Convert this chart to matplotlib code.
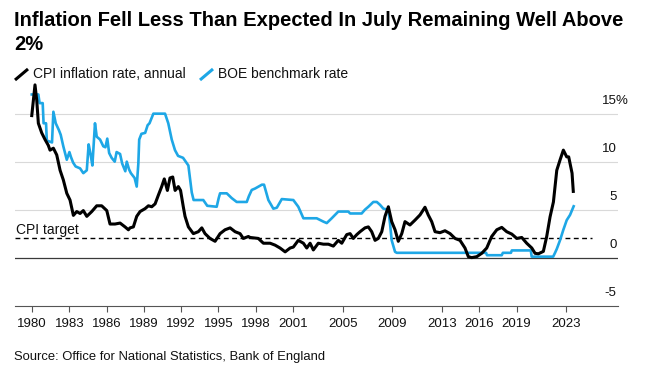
import matplotlib.pyplot as plt
import matplotlib.transforms as mtransforms
from matplotlib.lines import Line2D

plt.rcParams['font.family'] = ['Liberation Sans', 'DejaVu Sans']

# CPI inflation rate, annual (%)
cpi_year = [1979.97, 1980.23, 1980.37, 1980.50, 1980.77, 1981.04, 1981.30, 1981.44, 1981.71, 1981.98,
            1982.25, 1982.51, 1982.79, 1983.05, 1983.32, 1983.59, 1983.86, 1984.12, 1984.40, 1984.80,
            1985.20, 1985.60, 1986.01, 1986.27, 1986.67, 1987.08, 1987.48, 1987.75, 1987.88, 1988.15,
            1988.42, 1988.69, 1989.09, 1989.36, 1989.63, 1989.90, 1990.16, 1990.43, 1990.64, 1990.89,
            1991.10, 1991.32, 1991.51, 1991.77, 1991.95, 1992.17, 1992.31, 1992.58, 1992.98, 1993.38,
            1993.66, 1993.92, 1994.32, 1994.73, 1995.13, 1995.53, 1995.94, 1996.34, 1996.74, 1997.00,
            1997.41, 1997.55, 1998.21, 1998.62, 1999.16, 1999.56, 1999.96, 2000.37, 2000.77, 2001.03,
            2001.43, 2001.84, 2002.11, 2002.38, 2002.64, 2003.04, 2003.45, 2003.85, 2004.25, 2004.65,
            2004.93, 2005.33, 2005.60, 2005.86, 2006.14, 2006.40, 2006.80, 2007.07, 2007.34, 2007.61,
            2007.87, 2008.15, 2008.41, 2008.68, 2008.95, 2009.22, 2009.48, 2009.76, 2010.02, 2010.42,
            2010.82, 2011.23, 2011.63, 2011.89, 2012.17, 2012.44, 2012.84, 2013.24, 2013.65, 2014.05,
            2014.45, 2014.85, 2015.12, 2015.39, 2015.80, 2016.20, 2016.60, 2017.00, 2017.41, 2017.81,
            2018.21, 2018.62, 2019.02, 2019.42, 2019.82, 2020.23, 2020.49, 2020.76, 2021.16, 2021.43,
            2021.70, 2021.97, 2022.24, 2022.51, 2022.77, 2023.04, 2023.20, 2023.47, 2023.57]
cpi_rate = [14.8, 18.0, 16.4, 14.0, 13.0, 12.3, 11.7, 11.2, 11.4, 10.7,
            9.1, 8.1, 6.7, 6.0, 4.4, 4.8, 4.6, 4.9, 4.3, 4.8,
            5.4, 5.4, 4.9, 3.5, 3.5, 3.6, 3.2, 2.9, 3.1, 3.2,
            4.3, 4.8, 5.1, 5.4, 5.3, 5.6, 6.5, 7.4, 8.2, 7.0,
            8.3, 8.4, 7.0, 7.4, 7.0, 5.3, 4.3, 3.2, 2.5, 2.7,
            3.1, 2.5, 2.0, 1.7, 2.5, 2.9, 3.1, 2.7, 2.5, 2.0,
            2.2, 2.1, 2.0, 1.5, 1.5, 1.3, 1.0, 0.6, 1.0, 1.1,
            1.8, 1.5, 1.0, 1.5, 0.8, 1.5, 1.4, 1.4, 1.2, 1.8,
            1.5, 2.4, 2.5, 2.0, 2.4, 2.7, 3.1, 3.2, 2.7, 1.8,
            2.0, 2.7, 4.3, 5.3, 3.75, 2.9, 1.7, 2.5, 3.75, 3.4,
            3.9, 4.45, 5.25, 4.45, 3.75, 2.7, 2.6, 2.8, 2.5, 2.0,
            1.8, 1.0, 0.1, 0.0, 0.1, 0.45, 1.0, 2.2, 2.9, 3.15,
            2.7, 2.45, 2.0, 2.1, 1.5, 1.0, 0.45, 0.4, 0.65, 2.2,
            4.25, 5.8, 9.1, 10.2, 11.2, 10.5, 10.5, 8.8, 6.9]

# BOE benchmark rate (%)
boe_year = [1979.97, 1980.50, 1980.60, 1980.85, 1980.92, 1981.12, 1981.18, 1981.60, 1981.71, 1981.90,
            1982.15, 1982.30, 1982.51, 1982.79, 1983.00, 1983.12, 1983.30, 1983.50, 1983.86, 1984.12,
            1984.40, 1984.55, 1984.70, 1984.85, 1985.06, 1985.20, 1985.47, 1985.73, 1985.90, 1986.05,
            1986.20, 1986.40, 1986.65, 1986.80, 1987.08, 1987.25, 1987.50, 1987.62, 1987.80, 1987.95,
            1988.25, 1988.42, 1988.55, 1988.62, 1988.80, 1989.10, 1989.30, 1989.45, 1989.76, 1990.70,
            1990.96, 1991.24, 1991.50, 1991.75, 1992.15, 1992.58, 1992.85, 1993.00, 1993.78, 1994.10,
            1994.86, 1995.02, 1995.13, 1995.67, 1996.07, 1996.47, 1997.28, 1997.45, 1997.68, 1997.95,
            1998.50, 1998.67, 1999.02, 1999.42, 1999.70, 2000.10, 2001.03, 2001.43, 2001.84, 2002.91,
            2003.45, 2003.72, 2004.12, 2004.65, 2005.46, 2005.60, 2006.53, 2006.80, 2007.07, 2007.47,
            2007.75, 2008.01, 2008.28, 2008.68, 2008.81, 2008.95, 2009.22, 2009.36, 2016.55, 2016.62,
            2017.81, 2017.90, 2018.55, 2018.62, 2020.15, 2020.22, 2021.95, 2022.10, 2022.24, 2022.50,
            2022.77, 2023.04, 2023.31, 2023.60]
boe_rate = [17.0, 17.0, 16.1, 16.1, 14.0, 14.0, 12.2, 12.0, 15.2, 14.0,
            13.3, 12.8, 11.6, 10.2, 11.0, 10.5, 9.9, 9.5, 9.3, 8.8,
            9.1, 11.8, 10.8, 9.6, 14.0, 12.6, 12.3, 11.6, 11.5, 12.4,
            10.9, 10.4, 10.0, 11.0, 10.8, 9.8, 9.0, 10.0, 9.2, 8.8,
            8.3, 7.4, 9.8, 12.3, 12.9, 13.0, 13.8, 14.0, 15.0, 15.0,
            14.0, 12.3, 11.2, 10.6, 10.4, 9.6, 6.8, 6.0, 6.0, 5.4,
            5.3, 6.2, 6.7, 6.7, 6.2, 5.8, 5.8, 6.4, 7.05, 7.2,
            7.6, 7.6, 6.0, 5.1, 5.2, 6.1, 6.0, 5.3, 4.1, 4.1,
            3.75, 3.6, 4.1, 4.8, 4.8, 4.6, 4.6, 5.0, 5.3, 5.8,
            5.8, 5.5, 5.1, 5.0, 3.6, 1.8, 0.6, 0.5, 0.5, 0.25,
            0.25, 0.5, 0.5, 0.75, 0.75, 0.1, 0.1, 0.5, 0.9, 1.8,
            2.9, 3.9, 4.45, 5.35]

year_ticks = [1980, 1983, 1986, 1989, 1992, 1995, 1998, 2001, 2005, 2009, 2013, 2016, 2019, 2023]
rate_ticks = [-5, 0, 5, 10, 15]
rate_labels = ['-5', '0', '5', '10', '15']
cpi_target = 2

W, H = 658, 376
fig = plt.figure(figsize=(W / 100, H / 100), dpi=100)
ax = fig.add_axes([15 / W, 1 - 305.6 / H, 603 / W, (305.6 - 82) / H])

ax.set_xlim(1978.62, 2027.17)
ax.set_ylim(-5, 18.3)

for v in rate_ticks[2:]:
    ax.axhline(v, color='#d9d9d9', lw=0.8, zorder=0)
ax.axhline(0, color='#3a3a3a', lw=0.9, zorder=1)
ax.axhline(cpi_target, xmax=0.957, color='black', lw=1.0, ls=(0, (3.5, 2.5)), zorder=1)

ax.plot(boe_year, boe_rate, color='#1ea7e6', lw=1.9, zorder=2, solid_joinstyle='round')
ax.plot(cpi_year, cpi_rate, color='black', lw=2.2, zorder=3, solid_joinstyle='round')

for s in ['top', 'left', 'right']:
    ax.spines[s].set_visible(False)
ax.spines['bottom'].set_color('#555555')
ax.spines['bottom'].set_linewidth(0.8)

ax.set_xticks(year_ticks)
ax.set_xticklabels([str(y) for y in year_ticks])
ax.tick_params(axis='x', length=4, width=0.8, color='#555555', pad=5, labelsize=9.5, labelcolor='#111111')

ax.yaxis.tick_right()
ax.set_yticks(rate_ticks)
ax.set_yticklabels(rate_labels)
ax.tick_params(axis='y', length=0, pad=-1, labelsize=9.5, labelcolor='#111111')
offset = mtransforms.ScaledTranslation(0, 0.125, fig.dpi_scale_trans)
for lab in ax.get_yticklabels():
    lab.set_horizontalalignment('right')
    lab.set_verticalalignment('center')
    lab.set_transform(lab.get_transform() + offset)
pct_trans = mtransforms.blended_transform_factory(ax.transAxes, ax.transData) + offset
ax.text((616 - 15) / 603, 15, '%', transform=pct_trans, ha='left', va='center', fontsize=9.5, color='#111111')

ax.text(1978.7, 2.5, 'CPI target', fontsize=10, va='baseline', ha='left', color='#111111')

# title, legend and source
fig.text(14 / W, 1 - 11 / H, 'Inflation Fell Less Than Expected In July Remaining Well Above\n2%',
         fontsize=14.5, fontweight='bold', va='top', ha='left', linespacing=1.3)
fig.add_artist(Line2D([15 / W, 28 / W], [1 - 80 / H, 1 - 69 / H], color='black', lw=2.2, solid_capstyle='butt'))
fig.text(33 / W, 1 - 74 / H, 'CPI inflation rate, annual', fontsize=10, va='center', ha='left', color='#111111')
fig.add_artist(Line2D([200 / W, 213 / W], [1 - 80 / H, 1 - 69 / H], color='#1ea7e6', lw=2.2, solid_capstyle='butt'))
fig.text(218 / W, 1 - 74 / H, 'BOE benchmark rate', fontsize=10, va='center', ha='left', color='#111111')
fig.text(14 / W, 1 - 357 / H, 'Source: Office for National Statistics, Bank of England', fontsize=9.4, va='center',
         ha='left', color='#111111')

fig.savefig('out.png', dpi=100)
